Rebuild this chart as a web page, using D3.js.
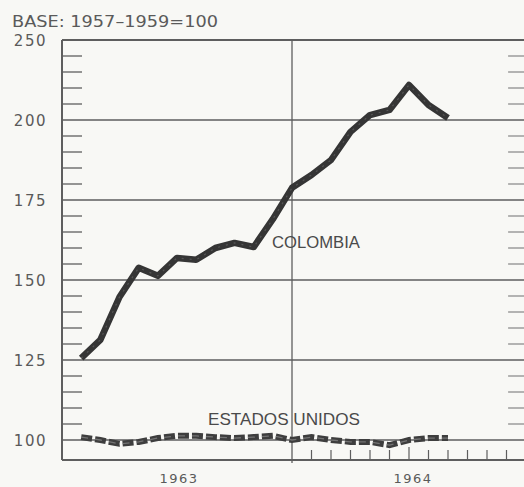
<!DOCTYPE html>
<html>
<head>
<meta charset="utf-8">
<script src="https://cdn.jsdelivr.net/npm/d3@7"></script>
<style>
  html, body { margin: 0; padding: 0; background: #f8f8f5; overflow: hidden; }
  svg { display: block; }
</style>
</head>
<body>
<svg id="chart" width="524" height="487"></svg>
<script>
// ---- DATA ----
const months = ["1963-01","1963-02","1963-03","1963-04","1963-05","1963-06","1963-07","1963-08","1963-09","1963-10","1963-11","1963-12",
                "1964-01","1964-02","1964-03","1964-04","1964-05","1964-06","1964-07","1964-08"];
const colombia = [125.6, 131.3, 144.7, 153.8, 151.3, 156.9, 156.3, 160.0, 161.6, 160.3, 169.0, 178.8,
                  182.8, 187.5, 196.3, 203.1, 206.3, 221.9, 209.4, 201.3];
const estadosUnidos = [100.9, 100.0, 98.8, 99.4, 100.6, 101.3, 101.3, 100.9, 100.6, 100.9, 101.3, 100.0,
                       100.9, 100.0, 99.4, 99.4, 98.4, 100.0, 100.6, 100.6];
const yMajorTicks = [100, 125, 150, 175, 200, 250];
const yTickLabels = ["100", "125", "150", "175", "200", "250"];
const yMinorTicks = [105,110,115,120,130,135,140,145,155,160,165,170,180,185,190,195,210,220,230,240];
const years = ["1963", "1964"];
const seriesLabels = ["COLOMBIA", "ESTADOS UNIDOS"];
const baseLabel = "BASE: 1957–1959=100";

// ---- SCALES ----
const svg = d3.select("#chart");
// month position: 0 = start of Jan 1963, 12 = start of 1964, 24 = end of 1964
const x = d3.scaleLinear().domain([0, 12, 24]).range([62, 292, 526]);
// the printed value axis is compressed above 200
const y = d3.scaleLinear().domain([93.75, 200, 250]).range([460, 120, 40]);
const xPos = (d, i) => x(i + 1);

const gridColor = "#5e5e5e";
const textColor = "#5a5a5a";
const x0 = x(0), x1 = 526;

// grid lines (major)
svg.append("g").selectAll("line").data(yMajorTicks).join("line")
  .attr("x1", x0).attr("x2", x1)
  .attr("y1", d => y(d)).attr("y2", d => y(d))
  .attr("stroke", gridColor).attr("stroke-width", d => d === 250 ? 1.8 : 1.4);

// bottom axis
svg.append("line").attr("x1", x0).attr("x2", x1)
  .attr("y1", y(93.75)).attr("y2", y(93.75))
  .attr("stroke", gridColor).attr("stroke-width", 1.8);

// left axis
svg.append("line").attr("x1", x0).attr("x2", x0)
  .attr("y1", y(250)).attr("y2", y(93.75))
  .attr("stroke", gridColor).attr("stroke-width", 2);

// year divider
svg.append("line").attr("x1", x(12)).attr("x2", x(12))
  .attr("y1", y(250)).attr("y2", y(93.75) + 3)
  .attr("stroke", gridColor).attr("stroke-width", 1.3);

// minor ticks left & right
svg.append("g").selectAll("line").data(yMinorTicks).join("line")
  .attr("x1", x0).attr("x2", x0 + 20)
  .attr("y1", d => y(d)).attr("y2", d => y(d))
  .attr("stroke", gridColor).attr("stroke-width", 1.3);
svg.append("g").selectAll("line").data(yMinorTicks).join("line")
  .attr("x1", 508).attr("x2", x1)
  .attr("y1", d => y(d)).attr("y2", d => y(d))
  .attr("stroke", gridColor).attr("stroke-width", 1.1).attr("opacity", 0.8);

// month ticks along the bottom for 1964
svg.append("g").selectAll("line").data(d3.range(13, 24)).join("line")
  .attr("x1", d => x(d)).attr("x2", d => x(d))
  .attr("y1", y(93.75)).attr("y2", d => y(93.75) - (d === 18 ? 13 : 10))
  .attr("stroke", gridColor).attr("stroke-width", 1.2);

// y tick labels
svg.append("g").selectAll("text").data(yMajorTicks).join("text")
  .attr("x", 47).attr("y", d => y(d) + 6)
  .attr("text-anchor", "end")
  .attr("font-family", "DejaVu Sans, sans-serif")
  .attr("font-size", 15).attr("letter-spacing", 1.5)
  .attr("fill", textColor)
  .text((d, i) => yTickLabels[i]);

// base label
svg.append("text").attr("x", 12).attr("y", 27)
  .attr("font-family", "DejaVu Sans, sans-serif")
  .attr("font-size", 15).attr("fill", textColor)
  .attr("textLength", 206).attr("lengthAdjust", "spacingAndGlyphs")
  .text(baseLabel);

// year labels
svg.append("g").selectAll("text").data(years).join("text")
  .attr("x", (d, i) => x(6 + 12 * i) + (i ? 4 : 2))
  .attr("y", 483)
  .attr("text-anchor", "middle")
  .attr("font-family", "DejaVu Sans, sans-serif")
  .attr("font-size", 13).attr("letter-spacing", 1.5)
  .attr("fill", textColor)
  .text(d => d);

// lines
const line = d3.line().x(xPos).y(d => y(d)).curve(d3.curveLinear);

svg.append("path").datum(colombia)
  .attr("d", line).attr("fill", "none")
  .attr("stroke", "#353535").attr("stroke-width", 6.5)
  .attr("stroke-linejoin", "round").attr("stroke-linecap", "butt");
svg.append("path").datum(colombia)
  .attr("d", line).attr("fill", "none")
  .attr("stroke", "#6a6a6a").attr("stroke-width", 1.2)
  .attr("stroke-dasharray", "2,6").attr("opacity", 0.6);

svg.append("path").datum(estadosUnidos)
  .attr("d", line).attr("fill", "none")
  .attr("stroke", "#3e3e3e").attr("stroke-width", 6)
  .attr("stroke-dasharray", "11,3");
svg.append("path").datum(estadosUnidos)
  .attr("d", line).attr("fill", "none")
  .attr("stroke", "#8a8a8a").attr("stroke-width", 1.3)
  .attr("stroke-dasharray", "7,7").attr("opacity", 0.7);

// series labels
svg.append("text").attr("x", 272).attr("y", 248)
  .attr("font-family", "Liberation Sans, Arial, sans-serif")
  .attr("font-size", 16.5).attr("fill", "#4a4a4a")
  .attr("textLength", 88).attr("lengthAdjust", "spacingAndGlyphs")
  .text(seriesLabels[0]);
svg.append("text").attr("x", 208).attr("y", 425)
  .attr("font-family", "Liberation Sans, Arial, sans-serif")
  .attr("font-size", 16.5).attr("fill", "#4a4a4a")
  .attr("textLength", 152).attr("lengthAdjust", "spacingAndGlyphs")
  .text(seriesLabels[1]);
</script>
</body>
</html>
